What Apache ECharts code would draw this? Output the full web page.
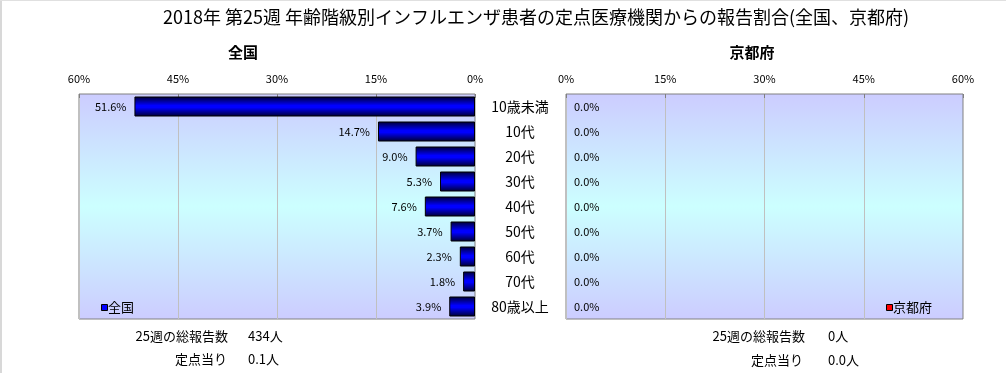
<!DOCTYPE html>
<html>
<head>
<meta charset="utf-8">
<script src="https://cdn.jsdelivr.net/npm/echarts@6/dist/echarts.min.js"></script>
<style>
html,body{margin:0;padding:0;background:#fff;}
#c{width:1006px;height:373px;}
</style>
</head>
<body>
<div id="c"></div>
<script>
const categories = ['10歳未満','10代','20代','30代','40代','50代','60代','70代','80歳以上'];
const nationalValues = [51.6,14.7,9.0,5.3,7.6,3.7,2.3,1.8,3.9];
const kyotoValues = [0,0,0,0,0,0,0,0,0];
const xTickMax = 60;
const xTickStep = 15;
const titleText = '2018年 第25週 年齢階級別インフルエンザ患者の定点医療機関からの報告割合(全国、京都府)';
const nationalTotal = '434人';
const nationalPerSite = '0.1人';
const kyotoTotal = '0人';
const kyotoPerSite = '0.0人';

const FONT = '"Noto Sans CJK JP", "Noto Sans", sans-serif';
const chart = echarts.init(document.getElementById('c'), null, {renderer:'canvas'});

const bgGrad = new echarts.graphic.LinearGradient(0,0,0,1,[
  {offset:0,color:'#ccccff'},{offset:0.5,color:'#ccffff'},{offset:1,color:'#ccccff'}]);
const barGrad = c1 => new echarts.graphic.LinearGradient(0,0,0,1,[
  {offset:0,color:'#000030'},{offset:0.45,color:c1},{offset:0.55,color:c1},{offset:1,color:'#000030'}]);

function xAxis(gridIndex, inverse){
  return {
    type:'value', gridIndex, inverse, min:0, max:xTickMax, interval:xTickStep, position:'top',
    axisLabel:{formatter:'{value}%', fontSize:11, color:'#000', fontFamily:FONT, margin:10},
    axisLine:{show:false},
    axisTick:{show:true, inside:true, length:4, lineStyle:{color:'#808080'}},
    splitLine:{show:true, lineStyle:{color:'#c0c0c0', width:1}}
  };
}
function yAxis(gridIndex, showLabel){
  return {
    type:'category', gridIndex, data:categories, inverse:true, position:'right',
    axisLine:{show:false}, axisTick:{show:false},
    axisLabel:{show:showLabel, fontSize:14, color:'#000', fontFamily:FONT, align:'center', margin:45}
  };
}
const labelFmt = p => p.value.toFixed(1) + '%';

chart.setOption({
  animation:false,
  grid:[
    {left:79, top:94, width:396, height:225, show:true, backgroundColor:bgGrad, borderColor:'#808080', borderWidth:1},
    {left:566, top:94, width:397, height:225, show:true, backgroundColor:bgGrad, borderColor:'#808080', borderWidth:1}
  ],
  xAxis:[xAxis(0,true), xAxis(1,false)],
  yAxis:[yAxis(0,true), yAxis(1,false)],
  series:[
    {name:'全国', type:'bar', xAxisIndex:0, yAxisIndex:0, data:nationalValues, barWidth:20,
     itemStyle:{color:barGrad('#0000ff'), borderColor:'#000', borderWidth:1},
     label:{show:true, position:'left', distance:8, formatter:labelFmt, fontSize:11, color:'#000', fontFamily:FONT}},
    {name:'京都府', type:'bar', xAxisIndex:1, yAxisIndex:1, data:kyotoValues, barWidth:20,
     itemStyle:{color:'#ff0000', borderColor:'#000', borderWidth:0},
     label:{show:true, position:'right', distance:8, formatter:labelFmt, fontSize:11, color:'#000', fontFamily:FONT}}
  ],
  graphic:[
    {type:'rect', shape:{x:0,y:0,width:2,height:373}, style:{fill:'#d8d8d8'}, silent:true},
    {type:'rect', shape:{x:0,y:0,width:1006,height:1}, style:{fill:'#e0e0e0'}, silent:true},
    {type:'text', x:536, y:17, style:{text:titleText, font:'18px '+FONT, fill:'#000', textAlign:'center', textVerticalAlign:'middle'}},
    {type:'text', x:243, y:52, style:{text:'全国', font:'bold 15px '+FONT, fill:'#000', textAlign:'center', textVerticalAlign:'middle'}},
    {type:'text', x:752, y:52, style:{text:'京都府', font:'bold 15px '+FONT, fill:'#000', textAlign:'center', textVerticalAlign:'middle'}},
    {type:'rect', shape:{x:101.5,y:304.5,width:6,height:6}, style:{fill:'#0000ff', stroke:'#000', lineWidth:1}},
    {type:'text', x:108, y:307, style:{text:'全国', font:'13px '+FONT, fill:'#000', textAlign:'left', textVerticalAlign:'middle'}},
    {type:'rect', shape:{x:886.5,y:304.5,width:6,height:6}, style:{fill:'#ff0000', stroke:'#000', lineWidth:1}},
    {type:'text', x:893, y:307, style:{text:'京都府', font:'13px '+FONT, fill:'#000', textAlign:'left', textVerticalAlign:'middle'}},
    {type:'text', x:228, y:336, style:{text:'25週の総報告数', font:'13px '+FONT, fill:'#000', textAlign:'right', textVerticalAlign:'middle'}},
    {type:'text', x:248, y:336, style:{text:nationalTotal, font:'13px '+FONT, fill:'#000', textAlign:'left', textVerticalAlign:'middle'}},
    {type:'text', x:227, y:359, style:{text:'定点当り', font:'13px '+FONT, fill:'#000', textAlign:'right', textVerticalAlign:'middle'}},
    {type:'text', x:248, y:359, style:{text:nationalPerSite, font:'13px '+FONT, fill:'#000', textAlign:'left', textVerticalAlign:'middle'}},
    {type:'text', x:805, y:336, style:{text:'25週の総報告数', font:'13px '+FONT, fill:'#000', textAlign:'right', textVerticalAlign:'middle'}},
    {type:'text', x:828, y:336, style:{text:kyotoTotal, font:'13px '+FONT, fill:'#000', textAlign:'left', textVerticalAlign:'middle'}},
    {type:'text', x:803, y:360, style:{text:'定点当り', font:'13px '+FONT, fill:'#000', textAlign:'right', textVerticalAlign:'middle'}},
    {type:'text', x:828, y:360, style:{text:kyotoPerSite, font:'13px '+FONT, fill:'#000', textAlign:'left', textVerticalAlign:'middle'}}
  ]
});
</script>
</body>
</html>
